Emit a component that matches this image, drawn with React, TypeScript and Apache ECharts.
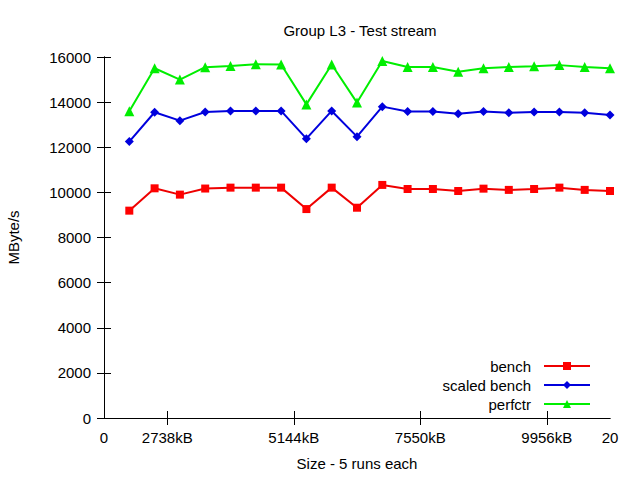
import React, { useEffect, useRef } from "react";
import * as echarts from "echarts";

const runs = [1, 2, 3, 4, 5, 6, 7, 8, 9, 10, 11, 12, 13, 14, 15, 16, 17, 18, 19, 20];
const bench = [9190, 10180, 9900, 10170, 10210, 10210, 10210, 9260, 10210, 9320, 10330, 10150, 10150, 10060, 10165, 10110, 10150, 10210, 10110, 10060];
const scaledBench = [12250, 13550, 13180, 13560, 13610, 13610, 13610, 12380, 13610, 12470, 13800, 13580, 13580, 13480, 13580, 13530, 13560, 13560, 13530, 13430];
const perfctr = [13600, 15500, 15000, 15550, 15600, 15680, 15670, 13900, 15670, 13980, 15820, 15560, 15560, 15350, 15500, 15560, 15590, 15640, 15560, 15500];
const xTickValues = [0, 2.5, 7.5, 12.5, 17.5, 20];
const xTickLabels = ["0", "2738kB", "5144kB", "7550kB", "9956kB", "20"];
const xInnerTicks = [2.5, 7.5, 12.5, 17.5];

const FONT = "'Liberation Sans', Arial, sans-serif";
const FS = 15;

export default function App() {
  const ref = useRef<HTMLDivElement>(null);
  useEffect(() => {
    if (!ref.current) return;
    const chart = echarts.init(ref.current, null, { renderer: "svg" });
    const mk = (vals: number[]) => runs.map((r, i) => [r, vals[i]]);
    const axisLine = { show: true, lineStyle: { color: "#000", width: 1 } };
    const tick = { show: true, inside: true, length: 7, lineStyle: { color: "#000" } };
    chart.setOption({
      animation: false,
      backgroundColor: "#fff",
      textStyle: { fontFamily: FONT },
      title: {
        text: "Group L3 - Test stream",
        left: 355,
        top: 18,
        textAlign: "center",
        textStyle: { fontFamily: FONT, fontSize: FS, fontWeight: "normal", color: "#000" },
      },
      grid: { left: 104, right: 30, top: 57, bottom: 62, containLabel: false, outerBoundsMode: "none" },
      legend: {
        orient: "vertical",
        align: "right",
        right: 44,
        top: 352,
        itemWidth: 46,
        itemHeight: 10,
        itemGap: 1,
        lineStyle: { width: 2 },
        textStyle: { fontFamily: FONT, fontSize: FS, color: "#000", lineHeight: 18, padding: [0, 8, 0, 0] },
        data: ["bench", "scaled bench", "perfctr"],
      },
      xAxis: [
        {
          type: "value",
          min: 0,
          max: 20,
          name: "Size - 5 runs each",
          nameLocation: "middle",
          nameGap: 38,
          nameTextStyle: { fontFamily: FONT, fontSize: FS, color: "#000" },
          axisLine,
          axisTick: { ...tick, customValues: xInnerTicks },
          axisLabel: {
            customValues: xTickValues,
            formatter: (v: number) => {
              const i = xTickValues.indexOf(v);
              return i >= 0 ? xTickLabels[i] : "";
            },
            fontFamily: FONT,
            fontSize: FS,
            color: "#000",
            margin: 12,
          },
          splitLine: { show: false },
        },
        {
          type: "value",
          position: "top",
          min: 0,
          max: 20,
          axisLine,
          axisTick: { ...tick, customValues: xInnerTicks },
          axisLabel: { show: false },
          splitLine: { show: false },
        },
      ],
      yAxis: [
        {
          type: "value",
          min: 0,
          max: 16000,
          interval: 2000,
          name: "MByte/s",
          nameLocation: "middle",
          nameGap: 83,
          nameTextStyle: { fontFamily: FONT, fontSize: FS, color: "#000" },
          axisLine,
          axisTick: tick,
          axisLabel: {
            fontFamily: FONT,
            fontSize: FS,
            color: "#000",
            margin: 13,
            formatter: (v: number) => String(v),
          },
          splitLine: { show: false },
        },
        {
          type: "value",
          position: "right",
          min: 0,
          max: 16000,
          interval: 2000,
          axisLine,
          axisTick: tick,
          axisLabel: { show: false },
          splitLine: { show: false },
        },
      ],
      series: [
        {
          name: "bench",
          type: "line",
          data: mk(bench),
          symbol: "rect",
          symbolSize: 8,
          color: "#ee0000",
          lineStyle: { width: 2, color: "#ee0000" },
          itemStyle: { color: "#ff0000" },
        },
        {
          name: "scaled bench",
          type: "line",
          data: mk(scaledBench),
          symbol: "diamond",
          symbolSize: 9,
          color: "#0000dd",
          lineStyle: { width: 2, color: "#0000dd" },
          itemStyle: { color: "#0000dd" },
        },
        {
          name: "perfctr",
          type: "line",
          data: mk(perfctr),
          symbol: "triangle",
          symbolSize: 10,
          color: "#00ee00",
          lineStyle: { width: 2, color: "#00ee00" },
          itemStyle: { color: "#00ee00" },
        },
      ],
    });
    return () => chart.dispose();
  }, []);
  return <div ref={ref} style={{ width: 640, height: 480, position: "fixed", left: 0, top: 0 }} />;
}
